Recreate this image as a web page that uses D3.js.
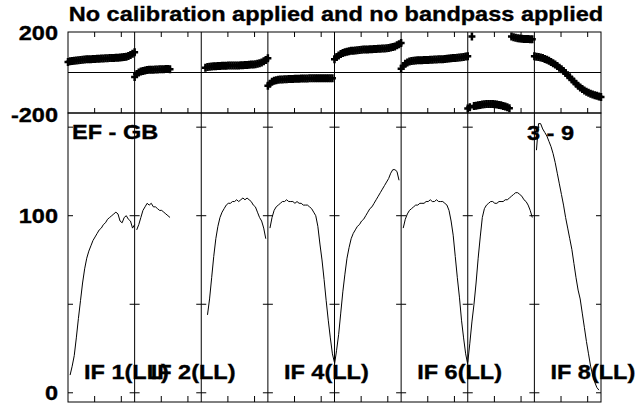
<!DOCTYPE html>
<html lang="en">
<head>
<meta charset="utf-8">
<script src="https://cdn.jsdelivr.net/npm/d3@7"></script>
<style>
  body { margin: 0; background: #fff; }
  text { font-family: "Liberation Sans", Arial, sans-serif; font-weight: bold; font-size: 21px; fill: #000; stroke: #000; stroke-width: 0.35; }
</style>
</head>
<body>
<script>
// every 2nd channel of a 64 channel IF
const channels = d3.range(0, 65, 2)
const nChan = 64
const nIF = 8

// amplitude per IF (null = no data)
const amp1 = [null,10,15,21,31,42,52,62,70,76,80,83,86,88,90,92,93,95,96,98,99,100,101,102,101,97,96,99,100,98,97,93,95]
const amp2 = [null,92,95,99,103,105,107,106,107,105,105,104,103,103,102,101,100,99,null,null,null,null,null,null,null,null,null,null,null,null,null,null,null]
const amp3 = [null,null,null,44,53,65,77,87,94,99,102,104,106,107,107,108,108,109,108,109,110,109,110,109,108,106,105,102,99,97,93,87,null]
const amp4 = [null,93,99,103,105,106,107,108,108,109,108,108,108,107,108,107,107,106,106,106,105,104,102,100,94,84,75,64,52,41,31,22,17]
const amp5 = [16,24,33,45,57,67,76,82,87,90,92,94,95,97,98,100,102,104,105,107,109,111,113,115,117,119,121,124,126,126,125,120,null]
const amp6 = [null,93,98,101,103,104,105,106,106,107,107,107,108,108,109,108,108,109,108,108,108,107,106,103,97,89,77,65,54,41,31,22,16]
const amp7 = [17,28,40,50,62,76,88,99,104,106,107,108,108,107,107,108,108,108,109,109,110,111,112,113,113,112,111,109,108,106,103,99,null]
const amp8 = [null,137,152,152,149,147,145,142,139,135,130,124,118,112,106,99,93,87,81,73,65,58,53,45,37,29,22,15,10,6,3,1.5,null]

// phase per IF, degrees
const ph1 = [52,55,57,58,59,60,62,63,64,65,66,66,67,67,68,68,69,69,70,70,71,71,72,73,73,74,75,76,78,81,86,93,100]
const ph2 = [-22,-8,0,5,8,10,12,13,14,14,15,15,16,16,16,17,17,16,null,null,null,null,null,null,null,null,null,null,null,null,null,null,null]
const ph3 = [null,null,24,27,29,30,31,31,32,32,33,33,33,34,34,34,35,35,35,36,36,37,37,38,39,40,41,43,46,50,55,62,70]
const ph4 = [-66,-55,-46,-41,-38,-36,-35,-34,-33,-33,-32,-32,-32,-31,-31,-31,-30,-30,-30,-30,-29,-29,-29,-29,-28,-28,-28,-28,-28,-28,-29,-29,null]
const ph5 = [66,76,84,91,96,100,103,105,107,108,109,110,111,112,113,114,114,115,115,116,116,117,117,118,119,120,121,123,126,129,134,140,146]
const ph6 = [18,32,43,50,54,57,58,59,60,61,61,62,62,62,63,63,64,64,65,65,66,67,68,69,70,71,72,73,74,75,77,79,80]
const ph7 = [-178,-172,178,-166,-164,-162,-160,-158,-157,-156,-156,-156,-156,-157,-158,-160,-162,-165,-168,-172,-176,178,174,171,169,168,167,166,165,165,164,164,null]
const ph8 = [80,78,76,74,71,67,63,58,52,46,39,32,24,16,7,-3,-13,-23,-34,-45,-55,-65,-74,-82,-89,-95,-100,-105,-109,-112,-115,-118,-121]

const amps = [amp1, amp2, amp3, amp4, amp5, amp6, amp7, amp8]
const phases = [ph1, ph2, ph3, ph4, ph5, ph6, ph7, ph8]

// labels
const title = 'No calibration applied and no bandpass applied'
const baseline = 'EF - GB'
const sourceLabel = '3 - 9'
const ifLabelIdx = [1, 2, 4, 6, 8]
const ampTicks = [0, 50, 100, 150]
const ampTickLabels = [0, 100]
const phaseTickLabels = [-200, 200]

const w = 641
const h = 405
const left = 68, right = 601
const stretchX = 1.12   // plot text is a bit wide

const x = d3.scaleLinear().domain([0, nIF * nChan]).range([left, right])
const yPh = d3.scaleLinear().domain([-200, 200]).range([113, 32])
const yAmp = d3.scaleLinear().domain([-5.2, 158]).range([402, 113])

const svg = d3.select('body').append('svg')
    .attr('width', w)
    .attr('height', h)

function stretch(sel) {
    sel.each(function() {
        const len = this.getComputedTextLength()
        d3.select(this).attr('textLength', len * stretchX).attr('lengthAdjust', 'spacingAndGlyphs')
    })
}

const g = svg.append('g')
    .attr('fill', 'none')
    .attr('stroke', '#000')
    .attr('stroke-width', 1)

// frames
g.append('rect').attr('x', left).attr('y', yPh(200))
    .attr('width', right - left).attr('height', yPh(-200) - yPh(200))
g.append('rect').attr('x', left).attr('y', yAmp.range()[1])
    .attr('width', right - left).attr('height', yAmp.range()[0] - yAmp.range()[1])

// zero phase line
g.append('line').attr('x1', left).attr('x2', right).attr('y1', yPh(0)).attr('y2', yPh(0))

// IF separators
g.selectAll('line.sep').data(d3.range(1, nIF))
  .enter().append('line')
    .attr('class', 'sep')
    .attr('x1', d => x(d * nChan)).attr('x2', d => x(d * nChan))
    .attr('y1', yPh(200)).attr('y2', yAmp.range()[0])

// x ticks per IF
const xt = []
d3.range(nIF).forEach(i => [0.4, 0.8].forEach(f => xt.push(i * nChan + f * nChan)))
xt.forEach(c => {
    g.append('line').attr('x1', x(c)).attr('x2', x(c)).attr('y1', yPh(200)).attr('y2', yPh(200) + 5)
    g.append('line').attr('x1', x(c)).attr('x2', x(c)).attr('y1', yPh(-200)).attr('y2', yPh(-200) - 5)
    g.append('line').attr('x1', x(c)).attr('x2', x(c)).attr('y1', yAmp.range()[0]).attr('y2', yAmp.range()[0] - 6)
})

// amplitude y ticks on each IF edge, pointing inward
d3.range(nIF).forEach(i => {
    const x0 = x(i * nChan), x1 = x((i + 1) * nChan)
    ampTicks.forEach(v => {
        g.append('line').attr('x1', x0).attr('x2', x0 + 5).attr('y1', yAmp(v)).attr('y2', yAmp(v))
        g.append('line').attr('x1', x1 - 5).attr('x2', x1).attr('y1', yAmp(v)).attr('y2', yAmp(v))
    })
})

// amplitude lines
const line = d3.line()
    .defined(d => d.v != null)
    .x(d => x(d.c))
    .y(d => yAmp(d.v))

amps.forEach((a, i) => {
    const pts = channels.map((c, j) => ({c: i * nChan + c, v: a[j]}))
    g.append('path').attr('d', line(pts)).attr('stroke-width', 1)
})

// phase markers
const plus = 'M-3.5,0H3.5M0,-4V4'
phases.forEach((p, i) => {
    const pts = channels.map((c, j) => ({c: i * nChan + c, v: p[j]})).filter(d => d.v != null)
    g.selectAll(null).data(pts)
      .enter().append('path')
        .attr('d', plus)
        .attr('stroke-width', 2.5)
        .attr('transform', d => 'translate(' + x(d.c) + ',' + yPh(d.v) + ')')
})

// texts
svg.append('text').attr('x', (left + 604) / 2).attr('y', 21)
    .attr('text-anchor', 'middle').text(title).call(stretch)

svg.selectAll('text.pl').data(phaseTickLabels)
  .enter().append('text')
    .attr('class', 'pl')
    .attr('x', 58).attr('text-anchor', 'end')
    .attr('y', d => yPh(d) + (d < 0 ? 8.5 : 7.5))
    .text(d => d).call(stretch)

svg.selectAll('text.al').data(ampTickLabels)
  .enter().append('text')
    .attr('class', 'al')
    .attr('x', 58).attr('text-anchor', 'end')
    .attr('y', d => yAmp(d) + 7.5)
    .text(d => d).call(stretch)

svg.append('text').attr('x', left + 4).attr('y', 139).text(baseline).call(stretch)
svg.append('text').attr('x', 527).attr('y', 140).text(sourceLabel).call(stretch)

svg.selectAll('text.ifl').data(ifLabelIdx)
  .enter().append('text')
    .attr('class', 'ifl')
    .attr('x', d => x((d - 1) * nChan) + 16)
    .attr('y', 379)
    .text(d => 'IF ' + d + '(LL)').call(stretch)
</script>
</body>
</html>
